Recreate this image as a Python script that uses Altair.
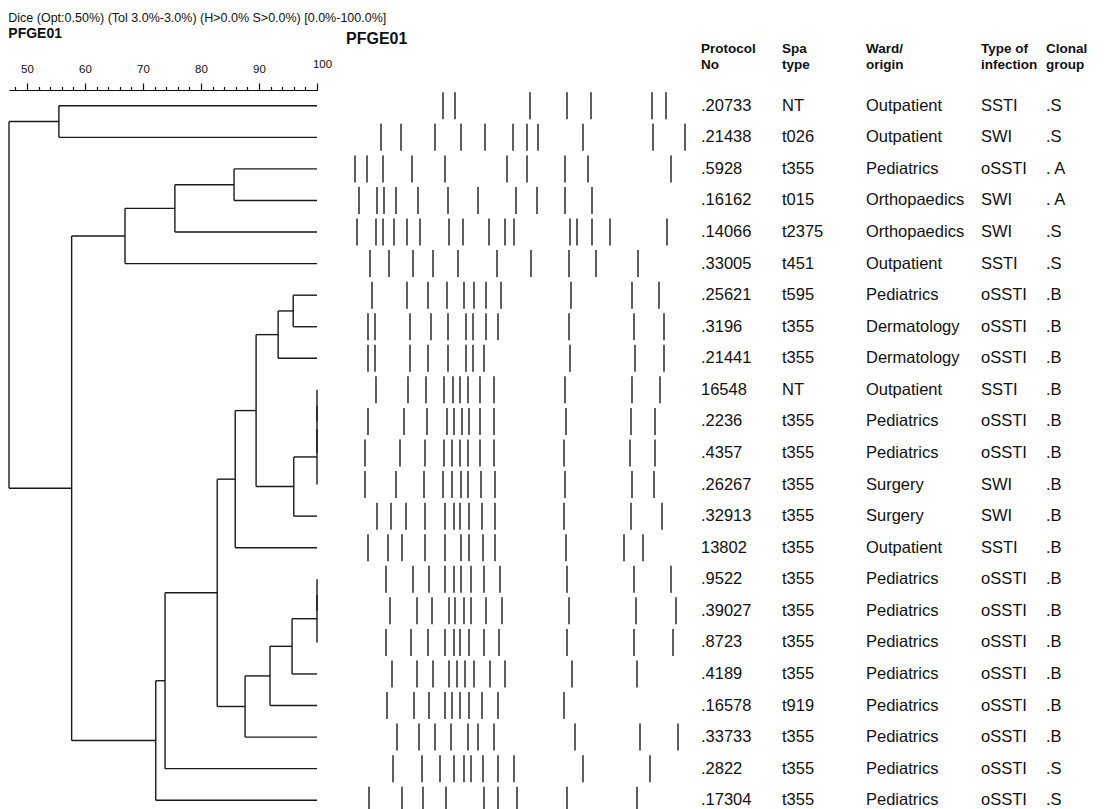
import altair as alt
import pandas as pd

FONT = "Liberation Sans, Arial, Helvetica, sans-serif"

# ---------------- data ----------------
protocol = [".20733", ".21438", ".5928", ".16162", ".14066", ".33005", ".25621", ".3196",
            ".21441", "16548", ".2236", ".4357", ".26267", ".32913", "13802", ".9522",
            ".39027", ".8723", ".4189", ".16578", ".33733", ".2822", ".17304"]
spa_type = ["NT", "t026", "t355", "t015", "t2375", "t451", "t595", "t355", "t355", "NT",
            "t355", "t355", "t355", "t355", "t355", "t355", "t355", "t355", "t355", "t919",
            "t355", "t355", "t355"]
ward = ["Outpatient", "Outpatient", "Pediatrics", "Orthopaedics", "Orthopaedics", "Outpatient",
        "Pediatrics", "Dermatology", "Dermatology", "Outpatient", "Pediatrics", "Pediatrics",
        "Surgery", "Surgery", "Outpatient", "Pediatrics", "Pediatrics", "Pediatrics",
        "Pediatrics", "Pediatrics", "Pediatrics", "Pediatrics", "Pediatrics"]
infection = ["SSTI", "SWI", "oSSTI", "SWI", "SWI", "SSTI", "oSSTI", "oSSTI", "oSSTI", "SSTI",
             "oSSTI", "oSSTI", "SWI", "SWI", "SSTI", "oSSTI", "oSSTI", "oSSTI", "oSSTI",
             "oSSTI", "oSSTI", "oSSTI", "oSSTI"]
clonal = [".S", ".S", ". A", ". A", ".S", ".S", ".B", ".B", ".B", ".B", ".B", ".B", ".B", ".B",
          ".B", ".B", ".B", ".B", ".B", ".B", ".B", ".S", ".S"]

# PFGE band positions per lane (relative migration distance)
bands = [
    [102, 114, 189, 226, 250, 311, 325],
    [40, 60, 94, 120, 144, 172, 186, 197, 242, 312, 344],
    [14, 26, 42, 71, 104, 166, 186, 224, 247, 330],
    [18, 36, 43, 55, 77, 107, 137, 175, 196, 224, 251],
    [16, 35, 42, 53, 66, 79, 108, 122, 148, 164, 173, 229, 236, 251, 269, 326],
    [29, 48, 72, 92, 117, 156, 190, 228, 255, 297],
    [31, 66, 87, 106, 123, 133, 145, 160, 230, 291, 318],
    [27, 34, 69, 90, 107, 125, 132, 145, 157, 228, 293, 323],
    [27, 34, 69, 87, 107, 125, 132, 143, 229, 294, 323],
    [35, 67, 85, 103, 112, 119, 127, 139, 153, 224, 291, 319],
    [27, 63, 86, 106, 113, 121, 128, 139, 153, 225, 290, 314],
    [24, 59, 84, 103, 111, 119, 127, 139, 153, 223, 289, 314],
    [24, 55, 83, 102, 111, 120, 127, 140, 154, 224, 291, 313],
    [36, 50, 65, 84, 104, 113, 119, 128, 141, 154, 223, 290, 321],
    [27, 47, 61, 84, 104, 120, 128, 142, 154, 225, 283, 302],
    [45, 72, 88, 104, 113, 120, 130, 143, 159, 226, 293, 330],
    [49, 76, 91, 108, 114, 123, 130, 145, 161, 228, 295, 335],
    [45, 70, 87, 104, 113, 119, 128, 143, 158, 226, 293, 332],
    [51, 76, 92, 108, 116, 124, 133, 149, 164, 231, 296],
    [46, 73, 88, 104, 111, 119, 128, 141, 157, 223],
    [56, 78, 94, 110, 127, 137, 153, 234, 299, 337],
    [52, 81, 99, 113, 123, 130, 142, 157, 173, 242, 309],
    [28, 61, 82, 105, 143, 157, 176, 226, 296],
]

# UPGMA merges: (left child, right child, Dice similarity %)
merges = [
    ("r9", "r10", 100.0), ("n0", "r11", 100.0), ("n1", "r12", 100.0), ("n2", "r13", 96.0),
    ("r6", "r7", 95.9), ("n4", "r8", 93.3), ("n5", "n3", 89.5), ("n6", "r14", 85.9),
    ("r15", "r16", 100.0), ("n8", "r17", 100.0), ("n9", "r18", 95.7), ("n10", "r19", 91.9),
    ("n11", "r20", 87.6), ("n7", "n12", 82.8), ("n13", "r21", 73.8), ("n14", "r22", 72.2),
    ("r2", "r3", 85.7), ("n16", "r4", 75.5), ("n17", "r5", 66.9), ("n18", "n15", 57.7),
    ("r0", "r1", 55.5), ("n20", "n19", 46.9),
]

# ---------------- build tables ----------------
pos = {f"r{i}": (100.0, float(i)) for i in range(len(protocol))}
segs = []
for k, (a, b, s) in enumerate(merges):
    xa, ya = pos[a]
    xb, yb = pos[b]
    segs.append(dict(x=s, x2=s, y=ya, y2=yb))
    segs.append(dict(x=s, x2=xa, y=ya, y2=ya))
    segs.append(dict(x=s, x2=xb, y=yb, y2=yb))
    pos[f"n{k}"] = (s, (ya + yb) / 2)
seg_df = pd.DataFrame(segs)

band_df = pd.DataFrame([dict(row=i, pos=p) for i, lane in enumerate(bands) for p in lane])
tab_df = pd.DataFrame(dict(row=list(range(len(protocol))), protocol=protocol, spa=spa_type,
                           ward=ward, infection=infection, clonal=clonal))

H = 726
ysc = alt.Scale(domain=[-0.5, 22.5], reverse=True, nice=False, zero=False)

dendro = alt.Chart(seg_df).mark_rule(color="#1a1a1a", strokeWidth=1.4).encode(
    x=alt.X("x:Q", scale=alt.Scale(domain=[46.9, 100], nice=False, zero=False),
            axis=alt.Axis(orient="top", values=list(range(48, 101, 2)), title=None,
                          labelExpr="datum.value % 10 === 0 ? datum.label : ''",
                          tickSize={"condition": {"test": "datum.value % 10 === 0", "value": 7}, "value": 3.5},
                          labelPadding={"condition": {"test": "datum.value === 100", "value": 14}, "value": 9},
                          labelOffset={"condition": {"test": "datum.value === 100", "value": 5}, "value": 0},
                          labelFont=FONT, labelFontSize=11.5, labelColor="#111", domainColor="#111",
                          tickColor="#111", grid=False, labelOverlap=False, labelFlush=False,
                          domainWidth=1.2, tickWidth=1.2)),
    x2="x2:Q",
    y=alt.Y("y:Q", scale=ysc, axis=None),
    y2="y2:Q",
).properties(
    width=308, height=H,
    title=alt.TitleParams(
        text="Dice (Opt:0.50%) (Tol 3.0%-3.0%) (H>0.0% S>0.0%) [0.0%-100.0%]",
        subtitle="PFGE01", anchor="start", font=FONT, fontSize=12.5, fontWeight="normal",
        color="#111", subtitleFont=FONT, subtitleFontSize=14, subtitleFontWeight="bold",
        subtitleColor="#111", subtitlePadding=3, offset=17),
)

gel = alt.Chart(band_df).mark_tick(orient="vertical", size=27, thickness=1.8, color="#000").encode(
    x=alt.X("pos:Q", scale=alt.Scale(domain=[-16, 352], nice=False, zero=False), axis=None),
    y=alt.Y("row:Q", scale=ysc, axis=None),
).properties(
    width=368, height=H,
    title=alt.TitleParams(text="PFGE01", anchor="start", font=FONT, fontSize=16,
                          fontWeight="bold", color="#111", dx=21, offset=43),
)

def col(field, header, width):
    return alt.Chart(tab_df).mark_text(align="left", baseline="middle", font=FONT,
                                       fontSize=16.5, color="#111").encode(
        x=alt.value(0),
        y=alt.Y("row:Q", scale=ysc, axis=None),
        text=f"{field}:N",
    ).properties(
        width=width, height=H,
        title=alt.TitleParams(text=header, anchor="start", font=FONT, fontSize=13.5,
                              fontWeight="bold", color="#111", lineHeight=16, offset=19),
    )

table = [
    col("protocol", ["Protocol", "No"], 73),
    col("spa", ["Spa", "type"], 76),
    col("ward", ["Ward/", "origin"], 107),
    col("infection", ["Type of", "infection"], 57),
    col("clonal", ["Clonal", "group"], 40),
]

chart = alt.hconcat(dendro, gel, *table, spacing=8, bounds="flush").properties(
    padding={"left": 0, "top": 3, "right": 0, "bottom": 0}
).configure_view(stroke=None)

chart.save("out.html", embed_options={"renderer": "svg", "actions": False})
